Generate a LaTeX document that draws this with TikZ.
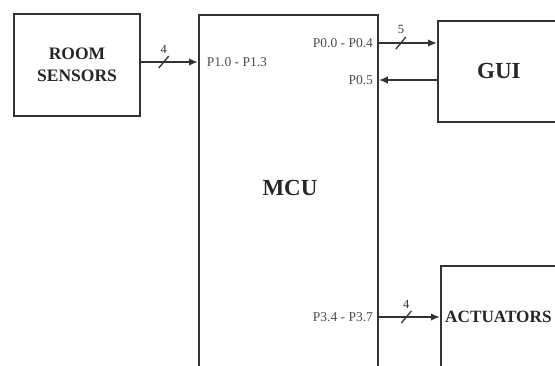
\documentclass[tikz,border=0pt]{standalone}
\usepackage{fontspec}
\setmainfont{Liberation Serif}
\usetikzlibrary{arrows.meta}

\begin{document}
\begin{tikzpicture}[
    x=1pt, y=-1pt,
    >={Latex[length=9pt,width=7.5pt]},
    blk/.style={draw=black!80, line width=1.8pt, inner sep=0pt, text=black!85},
    sig/.style={->, line width=1.8pt, draw=black!80},
    pin/.style={font=\fontsize{13.5}{13.5}\selectfont, text=black!70, inner sep=0pt},
    cnt/.style={font=\fontsize{12.5}{12.5}\selectfont, text=black!80, inner sep=0pt},
    tick/.style={line width=1.3pt, draw=black!80},
  ]
    \useasboundingbox (0,0) rectangle (555,365);
    \clip (0,0) rectangle (555,365);

    % blocks
    \node[blk, minimum width=126, minimum height=102, align=center,
          font=\bfseries\fontsize{17.5}{22}\selectfont] (rs) at (77,65) {ROOM\\SENSORS};
    \node[blk, minimum width=179, minimum height=380, anchor=north west] (mcu) at (198,14) {};
    \node[font=\bfseries\fontsize{23}{23}\selectfont, text=black!85] (mcutxt) at (290,188) {MCU};
    \node[blk, minimum width=122, minimum height=101, anchor=north west,
          font=\bfseries\fontsize{23}{23}\selectfont] (gui) at (437,20) {GUI};
    \node[blk, minimum width=160, minimum height=140, anchor=north west] (act) at (440,265) {};
    \node[font=\bfseries\fontsize{17.2}{17.2}\selectfont, text=black!85, anchor=west, inner sep=0pt] (acttxt) at (445,317) {ACTUATORS};

    % buses
    \draw[sig] (rs.east |- 0,62) -- node[cnt, pos=.4, above=8pt] (n1) {4} coordinate[pos=.4] (b1)
        (mcu.west |- 0,62) node[pin, anchor=west, xshift=8pt] (p1) {P1.0 - P1.3};
    \draw[sig] (mcu.east |- 0,43) node[pin, anchor=east, xshift=-5pt] (p0a) {P0.0 - P0.4}
        -- node[cnt, pos=.38, above=8pt] (n2) {5} coordinate[pos=.38] (b2) (gui.west |- 0,43);
    \draw[sig] (gui.west |- 0,80) -- (mcu.east |- 0,80) node[pin, anchor=east, xshift=-5pt] (p0b) {P0.5};
    \draw[sig] (mcu.east |- 0,317) node[pin, anchor=east, xshift=-5pt] (p3) {P3.4 - P3.7}
        -- node[cnt, pos=.45, above=8pt] (n3) {4} coordinate[pos=.45] (b3) (act.west |- 0,317);

    % bus width marks
    \foreach \b in {b1,b2,b3}
      \draw[tick] ([shift={(-5,6)}]\b) -- ([shift={(5,-6)}]\b);
\end{tikzpicture}
\end{document}
